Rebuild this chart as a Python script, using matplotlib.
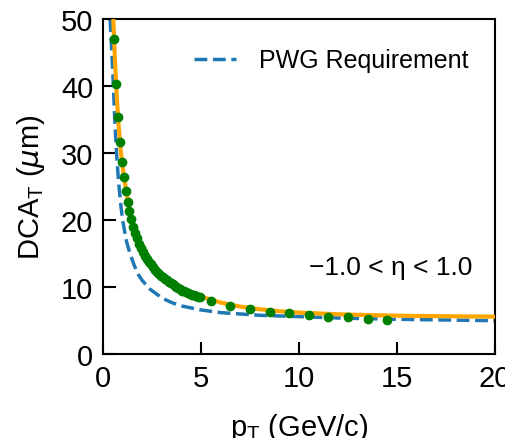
import matplotlib
matplotlib.use("Agg")
import matplotlib.pyplot as plt

# measured points
pt_meas = [0.55, 0.65, 0.75, 0.85, 0.95, 1.05, 1.15, 1.25, 1.35, 1.45,
           1.55, 1.65, 1.75, 1.85, 1.95, 2.05, 2.15, 2.25, 2.35, 2.45,
           2.55, 2.65, 2.75, 2.85, 2.95, 3.05, 3.15, 3.25, 3.35, 3.45,
           3.55, 3.65, 3.75, 3.85, 3.95, 4.05, 4.15, 4.25, 4.35, 4.45,
           4.55, 4.65, 4.75, 4.85, 4.95,
           5.5, 6.5, 7.5, 8.5, 9.5, 10.5, 11.5, 12.5, 13.5, 14.5]
dca_meas = [47.0, 40.3, 35.4, 31.7, 28.7, 26.4, 24.4, 22.7, 21.3, 20.1,
            19.0, 18.1, 17.3, 16.5, 15.9, 15.3, 14.7, 14.2, 13.8, 13.4,
            13.0, 12.6, 12.3, 12.0, 11.7, 11.5, 11.2, 11.0, 10.8, 10.6,
            10.4, 10.2, 10.0, 9.8, 9.7, 9.5, 9.4, 9.3, 9.1, 9.0,
            8.9, 8.8, 8.7, 8.6, 8.5,
            8.0, 7.2, 6.7, 6.3, 6.1, 5.8, 5.6, 5.5, 5.2, 5.1]

# fit curve
pt_fit = [0.5, 0.6, 0.7, 0.8, 0.9, 1.0, 1.2, 1.4, 1.6, 1.8, 2.0, 2.5, 3.0,
          3.5, 4.0, 4.5, 5.0, 6.0, 7.0, 8.0, 9.0, 10.0, 12.0, 14.0, 16.0,
          18.0, 20.0]
dca_fit = [52.0, 44.5, 38.5, 34.0, 30.5, 28.0, 24.0, 21.0, 18.8, 17.1, 15.8,
           13.3, 11.7, 10.6, 9.7, 9.1, 8.6, 7.7, 7.1, 6.7, 6.4, 6.2, 5.95,
           5.8, 5.7, 5.65, 5.6]

# PWG requirement
pt_req = [0.36, 0.45, 0.53, 0.6, 0.7, 0.8, 0.9, 1.0, 1.2, 1.4, 1.6, 1.8,
          2.0, 2.4, 3.0, 3.5, 4.0, 5.0, 6.0, 7.0, 8.0, 10.0, 12.0, 15.0, 20.0]
dca_req = [50.0, 45.0, 40.0, 35.0, 29.5, 25.5, 22.5, 20.0, 16.8, 14.8, 13.2,
           11.9, 11.0, 9.7, 8.4, 7.7, 7.2, 6.6, 6.2, 6.0, 5.8, 5.6, 5.4, 5.2,
           5.0]

plt.rcParams['font.family'] = ['Liberation Sans', 'DejaVu Sans']
plt.rcParams['mathtext.fontset'] = 'custom'
plt.rcParams['mathtext.rm'] = 'Liberation Sans'
plt.rcParams['mathtext.it'] = 'DejaVu Sans:italic'

fig = plt.figure(figsize=(5.05, 4.39), dpi=100)
ax = fig.add_axes([0.204, 0.191, 0.776, 0.763])

ax.plot(pt_req, dca_req, '--', color='#1f77b4', lw=2.5, label='PWG Requirement', zorder=2)
ax.plot(pt_fit, dca_fit, '-', color='#ffa500', lw=3, zorder=3)
ax.plot(pt_meas, dca_meas, 'o', color='green', ms=6, zorder=4)

ax.set_xlim(0, 20)
ax.set_ylim(0, 50)
ax.set_xticks([0, 5, 10, 15, 20])
ax.set_yticks([0, 10, 20, 30, 40, 50])
ax.tick_params(direction='in', length=9, width=1.5, labelsize=21, pad=7)
for s in ax.spines.values():
    s.set_linewidth(1.5)

ax.set_xlabel(r'p$_{\mathrm{T}}$ (GeV/c)', fontsize=21, labelpad=14)
ax.set_ylabel(r'DCA$_{\mathrm{T}}$ ($\mu$m)', fontsize=21, labelpad=10)
ax.text(0.735, 0.26, u'\u22121.0 < \u03b7 < 1.0', transform=ax.transAxes,
        ha='center', va='center', fontsize=19)
ax.legend(loc='upper right', frameon=False, fontsize=18, handlelength=1.7,
          handletextpad=0.9, bbox_to_anchor=(0.99, 0.98))

fig.savefig('out.png', dpi=100)
